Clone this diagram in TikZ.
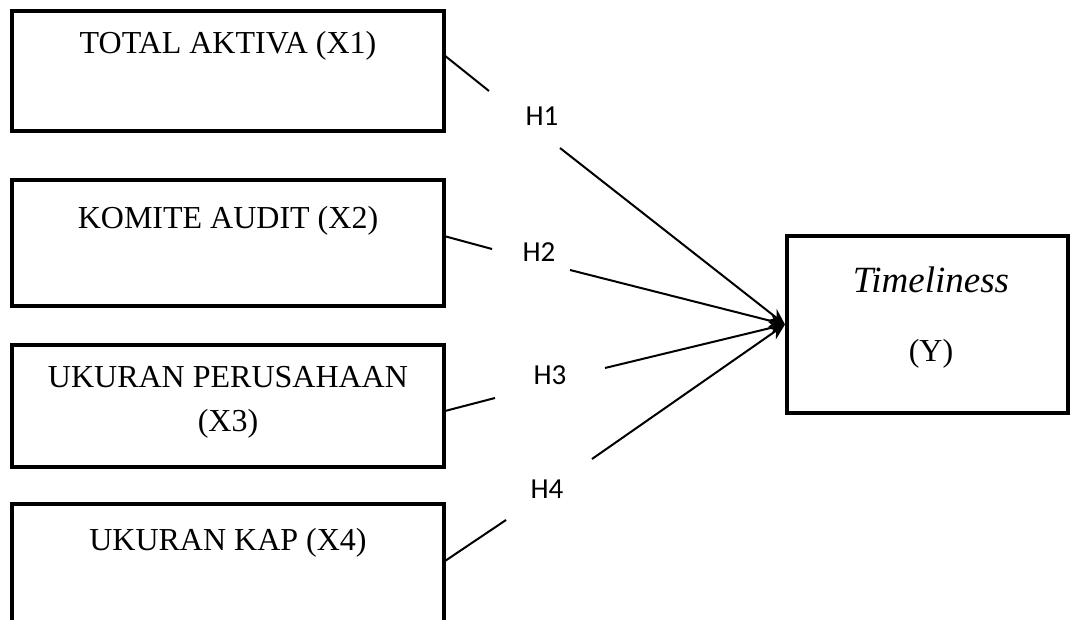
\documentclass[tikz,border=0pt]{standalone}
\usepackage{fontspec}
\setmainfont{Liberation Serif}
\newfontfamily\hfont{Carlito}
\usetikzlibrary{arrows.meta}
\begin{document}
\begin{tikzpicture}[x=0.5pt,y=-0.5pt,
  boxnode/.style={draw,line width=2pt,rectangle,inner sep=0pt,minimum width=216pt},
  boxtext/.style={font=\fontsize{16}{22}\selectfont,align=center,inner sep=0pt},
  hlabel/.style={font=\hfont\fontsize{14.5}{16}\selectfont,inner sep=0pt},
  conn/.style={line width=1pt},
  arr/.style={line width=1pt,-{Stealth[length=8pt,width=7pt]}}]
\useasboundingbox (0,0) rectangle (1071,620);
\clip (0,0) rectangle (1071,620);
% boxes
\node[boxnode,minimum height=60pt] (b1) at (228,71) {};
\node[boxnode,minimum height=63pt] (b2) at (228,243) {};
\node[boxnode,minimum height=61pt] (b3) at (228,406) {};
\node[boxnode,minimum height=68pt] (b4) at (228,572) {};
\node[draw,line width=2pt,rectangle,inner sep=0pt,minimum width=140.5pt,minimum height=88.5pt] (Y) at (927.5,324.5) {};
% texts
\node[boxtext] (t1) at (228,46) {TOTAL AKTIVA (X1)};
\node[boxtext] (t2) at (228,221) {KOMITE AUDIT (X2)};
\node[boxtext] (t3) at (228,402) {UKURAN PERUSAHAAN\\(X3)};
\node[boxtext] (t4) at (228,543) {UKURAN KAP (X4)};
\node[font=\fontsize{18.5}{20}\selectfont\itshape,inner sep=0pt] (ty1) at (931,280) {Timeliness};
\node[boxtext] (ty2) at (931,354) {(Y)};
% hypothesis labels
\node[hlabel] (h1) at (542,116) {H1};
\node[hlabel] (h2) at (539,252) {H2};
\node[hlabel] (h3) at (550,375) {H3};
\node[hlabel] (h4) at (547,489) {H4};
% connector points
\coordinate (s1) at (444,55);  \coordinate (g1a) at (489,91);  \coordinate (g1b) at (560,148);
\coordinate (s2) at (444,236); \coordinate (g2a) at (492,249); \coordinate (g2b) at (570,270);
\coordinate (s3) at (445,411); \coordinate (g3a) at (495,398); \coordinate (g3b) at (605,368);
\coordinate (s4) at (445,561); \coordinate (g4a) at (506,520); \coordinate (g4b) at (592,459);
% connectors
\draw[conn] (s1) -- (g1a);
\draw[arr] (g1b) -- (Y.west);
\draw[conn] (s2) -- (g2a);
\draw[arr] (g2b) -- (Y.west);
\draw[conn] (s3) -- (g3a);
\draw[arr] (g3b) -- (Y.west);
\draw[conn] (s4) -- (g4a);
\draw[arr] (g4b) -- (Y.west);
\end{tikzpicture}
\end{document}
